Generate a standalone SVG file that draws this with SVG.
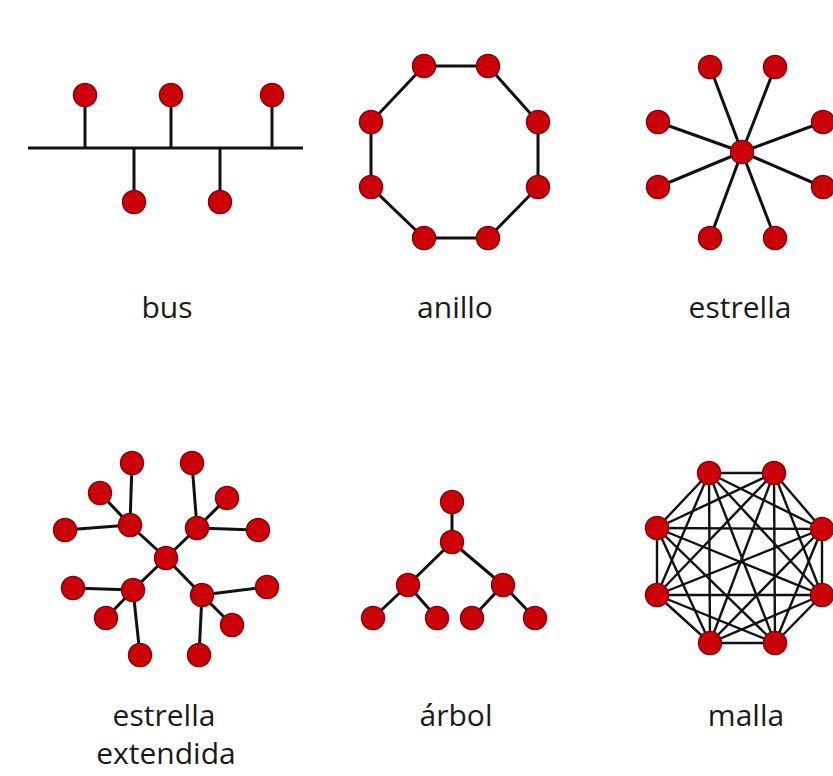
<svg xmlns="http://www.w3.org/2000/svg" width="833" height="776" viewBox="0 0 833 776">
<style>
.n{fill:#cc0008;stroke:#8e0006;stroke-width:1.5}
.e line,.e polygon{stroke:#111;stroke-width:3;fill:none}
.m line{stroke:#111;stroke-width:2.4}
.t{font-family:"Open Sans","Noto Sans",sans-serif;font-size:30px;fill:#1a1a1a;text-anchor:middle}
</style>
<rect width="833" height="776" fill="#fff"/>
<g id="connectors">
<g class="e" id="bus-edges">
<line x1="28" y1="148" x2="303" y2="148"/>
<line x1="85" y1="95" x2="85" y2="148"/>
<line x1="171" y1="95" x2="171" y2="148"/>
<line x1="272" y1="95" x2="272" y2="148"/>
<line x1="134" y1="148" x2="134" y2="202"/>
<line x1="220" y1="148" x2="220" y2="202"/>
</g>
<g class="e" id="ring-edges">
<polygon points="424,66 488,66 538,122 538,187 488,238 424,238 371,187 371,122"/>
</g>
<g class="e" id="star-edges">
<line x1="742" y1="152" x2="710" y2="67"/>
<line x1="742" y1="152" x2="775" y2="67"/>
<line x1="742" y1="152" x2="658" y2="122"/>
<line x1="742" y1="152" x2="823" y2="122"/>
<line x1="742" y1="152" x2="658" y2="187"/>
<line x1="742" y1="152" x2="823" y2="187"/>
<line x1="742" y1="152" x2="710" y2="238"/>
<line x1="742" y1="152" x2="775" y2="238"/>
</g>
<g class="e" id="ext-edges">
<line x1="166" y1="558" x2="130" y2="525"/>
<line x1="166" y1="558" x2="197" y2="528"/>
<line x1="166" y1="558" x2="133" y2="590"/>
<line x1="166" y1="558" x2="202" y2="595"/>
<line x1="130" y1="525" x2="132" y2="463"/>
<line x1="130" y1="525" x2="100" y2="493"/>
<line x1="130" y1="525" x2="65" y2="530"/>
<line x1="197" y1="528" x2="192" y2="463"/>
<line x1="197" y1="528" x2="227" y2="498"/>
<line x1="197" y1="528" x2="258" y2="530"/>
<line x1="133" y1="590" x2="73" y2="588"/>
<line x1="133" y1="590" x2="106" y2="618"/>
<line x1="133" y1="590" x2="140" y2="655"/>
<line x1="202" y1="595" x2="267" y2="587"/>
<line x1="202" y1="595" x2="232" y2="625"/>
<line x1="202" y1="595" x2="199" y2="655"/>
</g>
<g class="e" id="tree-edges">
<line x1="452" y1="502" x2="452" y2="542"/>
<line x1="452" y1="542" x2="408" y2="585"/>
<line x1="452" y1="542" x2="503" y2="585"/>
<line x1="408" y1="585" x2="373" y2="618"/>
<line x1="408" y1="585" x2="437" y2="618"/>
<line x1="503" y1="585" x2="472" y2="618"/>
<line x1="503" y1="585" x2="535" y2="618"/>
</g>
<g class="e m" id="mesh-edges">
<line x1="709" y1="473" x2="774" y2="473"/>
<line x1="709" y1="473" x2="822" y2="529"/>
<line x1="709" y1="473" x2="822" y2="595"/>
<line x1="709" y1="473" x2="775" y2="643"/>
<line x1="709" y1="473" x2="710" y2="643"/>
<line x1="709" y1="473" x2="657" y2="595"/>
<line x1="709" y1="473" x2="657" y2="528"/>
<line x1="774" y1="473" x2="822" y2="529"/>
<line x1="774" y1="473" x2="822" y2="595"/>
<line x1="774" y1="473" x2="775" y2="643"/>
<line x1="774" y1="473" x2="710" y2="643"/>
<line x1="774" y1="473" x2="657" y2="595"/>
<line x1="774" y1="473" x2="657" y2="528"/>
<line x1="822" y1="529" x2="822" y2="595"/>
<line x1="822" y1="529" x2="775" y2="643"/>
<line x1="822" y1="529" x2="710" y2="643"/>
<line x1="822" y1="529" x2="657" y2="595"/>
<line x1="822" y1="529" x2="657" y2="528"/>
<line x1="822" y1="595" x2="775" y2="643"/>
<line x1="822" y1="595" x2="710" y2="643"/>
<line x1="822" y1="595" x2="657" y2="595"/>
<line x1="822" y1="595" x2="657" y2="528"/>
<line x1="775" y1="643" x2="710" y2="643"/>
<line x1="775" y1="643" x2="657" y2="595"/>
<line x1="775" y1="643" x2="657" y2="528"/>
<line x1="710" y1="643" x2="657" y2="595"/>
<line x1="710" y1="643" x2="657" y2="528"/>
<line x1="657" y1="595" x2="657" y2="528"/>
</g>
</g>
<g id="bus-nodes">
<g id="bus1"><circle class="n" cx="85" cy="95" r="11.5"/></g>
<g id="bus2"><circle class="n" cx="171" cy="95" r="11.5"/></g>
<g id="bus3"><circle class="n" cx="272" cy="95" r="11.5"/></g>
<g id="bus4"><circle class="n" cx="134" cy="202" r="11.5"/></g>
<g id="bus5"><circle class="n" cx="220" cy="202" r="11.5"/></g>
</g>
<g id="ring-nodes">
<g id="ring1"><circle class="n" cx="424" cy="66" r="11.5"/></g>
<g id="ring2"><circle class="n" cx="488" cy="66" r="11.5"/></g>
<g id="ring3"><circle class="n" cx="538" cy="122" r="11.5"/></g>
<g id="ring4"><circle class="n" cx="538" cy="187" r="11.5"/></g>
<g id="ring5"><circle class="n" cx="488" cy="238" r="11.5"/></g>
<g id="ring6"><circle class="n" cx="424" cy="238" r="11.5"/></g>
<g id="ring7"><circle class="n" cx="371" cy="187" r="11.5"/></g>
<g id="ring8"><circle class="n" cx="371" cy="122" r="11.5"/></g>
</g>
<g id="star-nodes">
<g id="star0"><circle class="n" cx="742" cy="152" r="11.5"/></g>
<g id="star1"><circle class="n" cx="710" cy="67" r="11.5"/></g>
<g id="star2"><circle class="n" cx="775" cy="67" r="11.5"/></g>
<g id="star3"><circle class="n" cx="658" cy="122" r="11.5"/></g>
<g id="star4"><circle class="n" cx="823" cy="122" r="11.5"/></g>
<g id="star5"><circle class="n" cx="658" cy="187" r="11.5"/></g>
<g id="star6"><circle class="n" cx="823" cy="187" r="11.5"/></g>
<g id="star7"><circle class="n" cx="710" cy="238" r="11.5"/></g>
<g id="star8"><circle class="n" cx="775" cy="238" r="11.5"/></g>
</g>
<g id="ext-nodes">
<g id="ext0"><circle class="n" cx="166" cy="558" r="11.5"/></g>
<g id="ext-h1"><circle class="n" cx="130" cy="525" r="11.5"/></g>
<g id="ext-h2"><circle class="n" cx="197" cy="528" r="11.5"/></g>
<g id="ext-h3"><circle class="n" cx="133" cy="590" r="11.5"/></g>
<g id="ext-h4"><circle class="n" cx="202" cy="595" r="11.5"/></g>
<g id="ext1"><circle class="n" cx="132" cy="463" r="11.5"/></g>
<g id="ext2"><circle class="n" cx="100" cy="493" r="11.5"/></g>
<g id="ext3"><circle class="n" cx="65" cy="530" r="11.5"/></g>
<g id="ext4"><circle class="n" cx="192" cy="463" r="11.5"/></g>
<g id="ext5"><circle class="n" cx="227" cy="498" r="11.5"/></g>
<g id="ext6"><circle class="n" cx="258" cy="530" r="11.5"/></g>
<g id="ext7"><circle class="n" cx="73" cy="588" r="11.5"/></g>
<g id="ext8"><circle class="n" cx="106" cy="618" r="11.5"/></g>
<g id="ext9"><circle class="n" cx="140" cy="655" r="11.5"/></g>
<g id="ext10"><circle class="n" cx="267" cy="587" r="11.5"/></g>
<g id="ext11"><circle class="n" cx="232" cy="625" r="11.5"/></g>
<g id="ext12"><circle class="n" cx="199" cy="655" r="11.5"/></g>
</g>
<g id="tree-nodes">
<g id="tree1"><circle class="n" cx="452" cy="502" r="11.5"/></g>
<g id="tree2"><circle class="n" cx="452" cy="542" r="11.5"/></g>
<g id="tree3"><circle class="n" cx="408" cy="585" r="11.5"/></g>
<g id="tree4"><circle class="n" cx="503" cy="585" r="11.5"/></g>
<g id="tree5"><circle class="n" cx="373" cy="618" r="11.5"/></g>
<g id="tree6"><circle class="n" cx="437" cy="618" r="11.5"/></g>
<g id="tree7"><circle class="n" cx="472" cy="618" r="11.5"/></g>
<g id="tree8"><circle class="n" cx="535" cy="618" r="11.5"/></g>
</g>
<g id="mesh-nodes">
<g id="mesh1"><circle class="n" cx="709" cy="473" r="11.5"/></g>
<g id="mesh2"><circle class="n" cx="774" cy="473" r="11.5"/></g>
<g id="mesh3"><circle class="n" cx="822" cy="529" r="11.5"/></g>
<g id="mesh4"><circle class="n" cx="822" cy="595" r="11.5"/></g>
<g id="mesh5"><circle class="n" cx="775" cy="643" r="11.5"/></g>
<g id="mesh6"><circle class="n" cx="710" cy="643" r="11.5"/></g>
<g id="mesh7"><circle class="n" cx="657" cy="595" r="11.5"/></g>
<g id="mesh8"><circle class="n" cx="657" cy="528" r="11.5"/></g>
</g>
<g id="labels">
<text class="t" x="167" y="318">bus</text>
<text class="t" x="455" y="318">anillo</text>
<text class="t" x="740" y="318">estrella</text>
<text class="t" x="164" y="726">estrella</text>
<text class="t" x="166" y="764">extendida</text>
<text class="t" x="456" y="726">árbol</text>
<text class="t" x="746" y="726">malla</text>
</g>
</svg>
